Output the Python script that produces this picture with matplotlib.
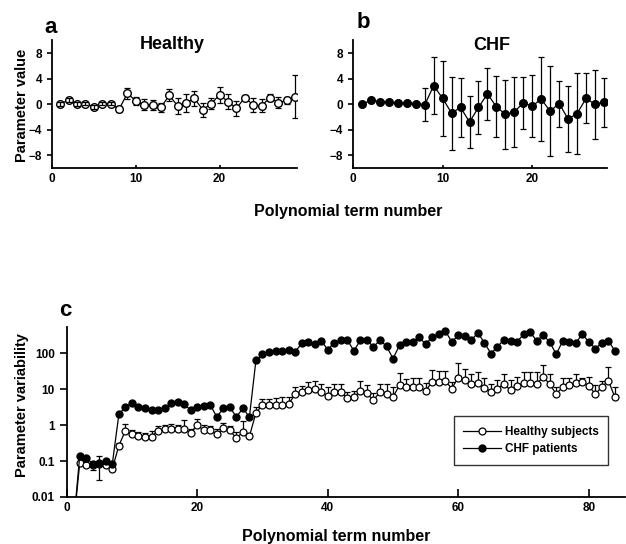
import numpy as np
import matplotlib.pyplot as plt

plt.rcParams['font.family'] = ['Liberation Sans', 'DejaVu Sans']
plt.rcParams['font.weight'] = 'bold'

# panel a: healthy parameter values (mean, sd)
terms_a = list(range(1, 30))
healthy_val = [0, 0.7, 0, 0.1, -0.4, 0.1, 0.1, -0.8, 1.7, 0.5, -0.1, -0.1, -0.5, 1.4, -0.3,
               0.2, 0.9, -0.9, 0.1, 1.45, 0.4, -0.65, 1.0, -0.1, -0.25, 1.0, 0.25, 0.6, 1.2]
healthy_sd = [0.3, 0.3, 0.3, 0.3, 0.3, 0.3, 0.3, 0.5, 0.9, 0.7, 0.85, 0.8, 0.7, 0.9, 1.2,
              1.4, 1.15, 1.15, 0.9, 1.3, 1.15, 1.15, 0.4, 1.05, 1.0, 0.55, 0.9, 0.6, 3.4]

# panel b: CHF parameter values (mean, sd)
terms_b = list(range(1, 29))
chf_val = [0, 0.6, 0.4, 0.4, 0.2, 0.2, 0.1, -0.1, 2.9, 0.9, -1.4, -0.5, -2.8, -0.5, 1.6,
           -0.4, -1.6, -1.2, 0.2, -0.3, 0.8, -1.1, 0.1, -2.3, -1.5, 0.9, 0.0, 0.3]
chf_sd = [0, 0, 0, 0, 0, 0, 0, 2.6, 4.5, 5.9, 5.7, 4.6, 4.1, 4.2, 4.0,
          4.8, 5.4, 5.5, 4.1, 4.8, 6.6, 7.0, 3.6, 5.2, 6.3, 3.9, 5.4, 3.8]

# panel c: parameter variability
terms_c = list(range(1, 85))
var_healthy = [0.0013, 0.088, 0.076, 0.076, 0.085, 0.079, 0.061, 0.27, 0.70, 0.56,
               0.51, 0.46, 0.48, 0.70, 0.77, 0.77, 0.77, 0.79, 0.62, 1.0,
               0.72, 0.72, 0.55, 0.81, 0.72, 0.43, 0.65, 0.49, 2.2, 3.6,
               3.6, 3.6, 3.6, 3.8, 7.2, 8.4, 9.4, 9.8, 8.4, 6.4,
               8.4, 8.4, 5.5, 5.9, 9.0, 7.6, 4.9, 8.4, 7.3, 6.1,
               12.9, 11.6, 11.6, 11.6, 9.0, 16, 16, 17, 10.4, 21,
               17.8, 13.8, 15, 11, 8.4, 10.4, 13.8, 9.4, 12.1, 15,
               15, 13.8, 22, 13.8, 7.3, 11.6, 12.9, 15, 16, 12.1,
               7.3, 11.6, 17, 5.9]
var_healthy_up = [0, 0.01, 0.01, 0.02, 0.055, 0.01, 0.01, 0.05, 0.4, 0.15,
                  0.15, 0.15, 0.2, 0.26, 0.25, 0.28, 0.25, 0.6, 0.15, 0.5,
                  0.3, 0.2, 0.25, 0.3, 0.2, 0.2, 0.65, 0.1, 0.9, 1.7,
                  1.7, 1.9, 2.3, 2.1, 4.4, 3.7, 6.6, 6.8, 5.9, 5.2,
                  5.9, 5.1, 2.9, 3.1, 7.7, 5.3, 2.7, 5.4, 6.5, 5.5,
                  15, 7, 9.4, 8.2, 6, 18, 16, 15, 5.6, 31,
                  19, 13, 15, 9, 5.9, 7.4, 13, 8.4, 10, 15,
                  15, 16, 24, 13, 4.3, 8.2, 8, 12, 4, 9,
                  5.6, 5.4, 25, 5.7]
var_healthy_low = [0, 0, 0, 0.02, 0.055] + [0] * 79
var_chf = [0.0013, 0.14, 0.12, 0.085, 0.088, 0.10, 0.085, 2.0, 3.2, 4.1,
           3.1, 3.0, 2.6, 2.7, 3.0, 4.1, 4.5, 3.8, 2.6, 3.2,
           3.3, 3.6, 1.7, 2.9, 3.1, 1.7, 2.9, 1.7, 64, 92,
           109, 113, 116, 126, 109, 186, 206, 178, 220, 126,
           194, 235, 235, 116, 230, 230, 150, 230, 156, 71,
           166, 206, 206, 274, 178, 283, 337, 418, 206, 316,
           296, 230, 370, 194, 98, 150, 240, 220, 206, 337,
           390, 220, 316, 206, 93, 220, 206, 194, 337, 206,
           135, 194, 220, 116]

fig = plt.figure(figsize=(6.26, 5.44), dpi=100)
ax_a = fig.add_axes([0.083, 0.691, 0.391, 0.235])
ax_b = fig.add_axes([0.564, 0.691, 0.405, 0.235])
ax_c = fig.add_axes([0.1065, 0.0864, 0.8915, 0.3126])


def style(ax):
    for s in ['top', 'right']:
        ax.spines[s].set_visible(False)
    for s in ['left', 'bottom']:
        ax.spines[s].set_linewidth(1.3)
    ax.tick_params(labelsize=8.5, width=1.2)


# panel a
ax_a.plot(terms_a, healthy_val, color='black', lw=0.9, zorder=1)
ax_a.errorbar(terms_a[7:], healthy_val[7:], yerr=healthy_sd[7:], fmt='none',
              ecolor='black', elinewidth=0.9, capsize=2.5, capthick=0.9, zorder=2)
ax_a.plot(terms_a, healthy_val, 'o', ms=5.5, mfc='white', mec='black', mew=1, zorder=3)
ax_a.errorbar(terms_a[:7], healthy_val[:7], yerr=healthy_sd[:7], fmt='none',
              ecolor='black', elinewidth=0.9, capsize=2.2, capthick=0.9, zorder=4)

# panel b
ax_b.plot(terms_b, chf_val, color='black', lw=0.9, zorder=1)
ax_b.errorbar(terms_b[7:], chf_val[7:], yerr=chf_sd[7:], fmt='none',
              ecolor='black', elinewidth=0.9, capsize=2.5, capthick=0.9, zorder=2)
ax_b.plot(terms_b, chf_val, 'o', ms=5.5, mfc='black', mec='black', zorder=3)

for ax, xmax in [(ax_a, 29.2), (ax_b, 28.3)]:
    style(ax)
    ax.set_xlim(0, xmax)
    ax.set_ylim(-10, 10)
    ax.set_yticks([-8, -4, 0, 4, 8])
    ax.set_xticks([0, 10, 20])
    ax.tick_params(axis='y', direction='out', length=3.5)
    ax.tick_params(axis='x', direction='in', length=2)

fig.text(0.275, 0.919, 'Healthy', fontsize=13, ha='center', va='center')
fig.text(0.785, 0.917, 'CHF', fontsize=13, ha='center', va='center')
fig.text(0.08, 0.950, 'a', fontsize=16, ha='center', va='center')
fig.text(0.58, 0.958, 'b', fontsize=16, ha='center', va='center')
fig.text(0.035, 0.807, 'Parameter value', fontsize=10.5, rotation=90,
         ha='center', va='center')
fig.text(0.556, 0.612, 'Polynomial term number', fontsize=11.5,
         ha='center', va='center')

# panel c
ax_c.set_yscale('log')
ax_c.errorbar(terms_c, var_healthy, yerr=[var_healthy_low, var_healthy_up], fmt='none',
              ecolor='black', elinewidth=0.9, capsize=2.5, capthick=0.9, zorder=1)
ax_c.plot(terms_c, var_healthy, '-o', color='black', lw=0.9, ms=5, mfc='white',
          mec='black', mew=0.9, zorder=2, label='Healthy subjects')
ax_c.plot(terms_c, var_chf, '-o', color='black', lw=0.9, ms=5, mfc='black',
          mec='black', zorder=3, label='CHF patients')
style(ax_c)
ax_c.set_xlim(0, 85.5)
ax_c.set_ylim(0.01, 537)
ax_c.set_xticks([0, 20, 40, 60, 80])
ax_c.set_yticks([0.01, 0.1, 1, 10, 100])
ax_c.set_yticklabels(['0.01', '0.1', '1', '10', '100'])
ax_c.minorticks_off()
ax_c.tick_params(axis='x', direction='in', length=6)
ax_c.tick_params(axis='y', direction='out', length=5)
leg = ax_c.legend(loc='lower left', bbox_to_anchor=(0.694, 0.19), fontsize=8.5,
                  frameon=True, fancybox=False, handlelength=3.2, numpoints=1,
                  borderpad=0.8, labelspacing=0.45, handletextpad=0.3,
                  borderaxespad=0)
leg.get_frame().set_edgecolor('black')
leg.get_frame().set_linewidth(1)

fig.text(0.105, 0.43, 'c', fontsize=16, ha='center', va='center')
fig.text(0.035, 0.256, 'Parameter variability', fontsize=10.5, rotation=90,
         ha='center', va='center')
fig.text(0.537, 0.014, 'Polynomial term number', fontsize=11.5,
         ha='center', va='center')

fig.savefig('out.png', dpi=100)
